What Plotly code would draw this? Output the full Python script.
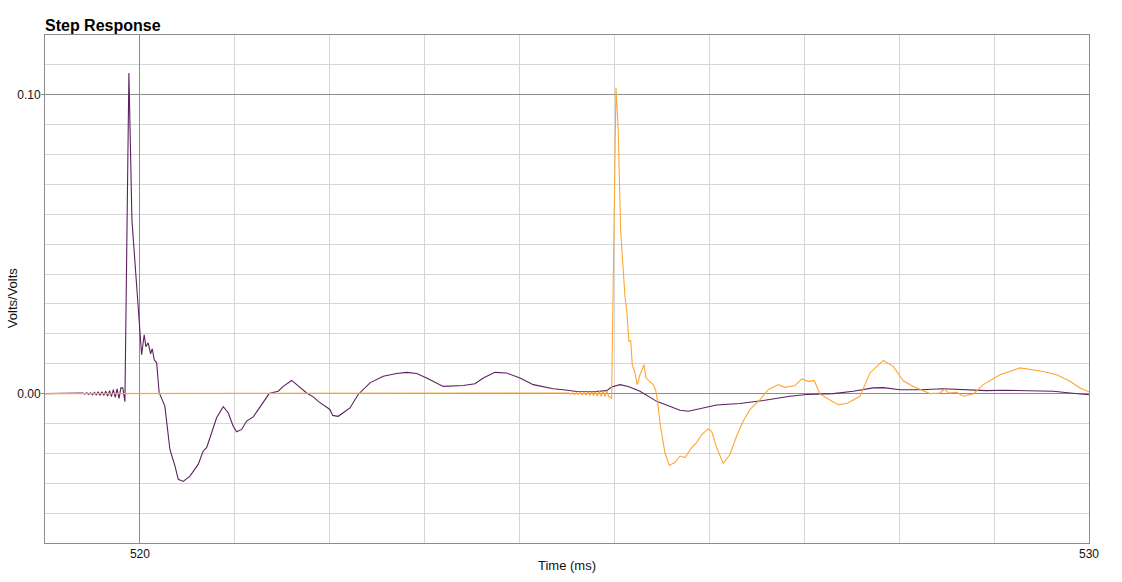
import plotly.graph_objects as go

# ---- data (time in ms, response in Volts/Volts) ----
purple_t = [519.00, 519.38,
            519.40, 519.42, 519.44, 519.46, 519.48, 519.50, 519.52, 519.54, 519.56, 519.58,
            519.60, 519.62, 519.64, 519.66, 519.68, 519.70, 519.72, 519.74, 519.76, 519.78,
            519.80, 519.82, 519.842, 519.884, 519.916, 520.018, 520.045, 520.063, 520.087,
            520.113, 520.130, 520.151, 520.176, 520.203, 520.263, 520.316, 520.369, 520.404,
            520.456, 520.527, 520.614, 520.667, 520.703, 520.756, 520.808, 520.878, 520.930,
            520.983, 521.019, 521.072, 521.124, 521.194, 521.264, 521.362, 521.457, 521.510,
            521.599, 521.668, 521.757, 521.826, 521.879, 522.002, 522.031, 522.090, 522.142,
            522.213, 522.300, 522.424, 522.564, 522.705, 522.810, 522.916, 523.021, 523.196,
            523.407, 523.530, 523.618, 523.741, 523.864, 524.004, 524.144, 524.355, 524.461,
            524.602, 524.777, 524.918, 524.970, 525.058, 525.146, 525.269, 525.445, 525.550,
            525.690, 525.778, 525.901, 526.077, 526.322, 526.568, 526.849, 527.025, 527.306,
            527.516, 527.727, 527.833, 528.008, 528.219, 528.465, 528.675, 528.922, 529.097,
            529.378, 529.624, 529.800, 529.982, 530.000]
purple_v = [0.0, 0.0,
            0.0002, -0.0002, 0.0003, -0.0003, 0.0003, -0.0004, 0.0004, -0.0004, 0.0005, -0.0005,
            0.0006, -0.0006, 0.0008, -0.0008, 0.0010, -0.0010, 0.0013, -0.0013, 0.0016, -0.0016,
            0.0020, 0.0019, -0.0027, 0.1073, 0.0580, 0.0130, 0.0197, 0.0157, 0.0170,
            0.0133, 0.0150, 0.0113, 0.0103, 0.0003, -0.0042, -0.0187, -0.0242, -0.0287,
            -0.0294, -0.0276, -0.0237, -0.0192, -0.0181, -0.0131, -0.0081, -0.0044, -0.0064,
            -0.0109, -0.0128, -0.0120, -0.0092, -0.0078, -0.0044, 0.0000, 0.0008, 0.0024,
            0.0044, 0.0027, 0.0002, -0.0011, -0.0026, -0.0053, -0.0073, -0.0076, -0.0064,
            -0.0048, -0.0003, 0.0036, 0.0058, 0.0067, 0.0071, 0.0067, 0.0052, 0.0024,
            0.0027, 0.0033, 0.0052, 0.0071, 0.0069, 0.0052, 0.0030, 0.0016, 0.0013,
            0.0007, 0.0006, 0.0010, 0.0022, 0.0030, 0.0024, 0.0008, -0.0026, -0.0039,
            -0.0056, -0.0059, -0.0051, -0.0038, -0.0033, -0.0023, -0.0009, -0.0003, 0.0000,
            0.0008, 0.0019, 0.0020, 0.0013, 0.0013, 0.0016, 0.0013, 0.0010, 0.0011,
            0.0010, 0.0008, 0.0002, -0.0003, -0.0004]

orange_t = [519.00, 524.50,
            524.52, 524.54, 524.56, 524.58, 524.60, 524.62, 524.64, 524.66, 524.68, 524.70,
            524.72, 524.74, 524.76, 524.78, 524.80, 524.82, 524.84, 524.86, 524.88, 524.90,
            524.92, 524.94, 524.970, 525.016, 525.040, 525.065, 525.111, 525.129, 525.153,
            525.171, 525.188, 525.216, 525.240, 525.269, 525.311, 525.332, 525.374, 525.409,
            525.437, 525.461, 525.479, 525.532, 525.577, 525.637, 525.690, 525.743, 525.813,
            525.866, 525.919, 525.988, 526.024, 526.077, 526.146, 526.217, 526.288, 526.357,
            526.428, 526.498, 526.533, 526.620, 526.726, 526.796, 526.902, 526.973, 527.042,
            527.105, 527.165, 527.253, 527.358, 527.447, 527.587, 527.692, 527.763, 527.832,
            527.938, 528.043, 528.149, 528.324, 528.430, 528.483, 528.517, 528.606, 528.675,
            528.781, 528.886, 529.062, 529.273, 529.518, 529.659, 529.800, 529.905, 529.982,
            530.000]
orange_v = [0.0, 0.0,
            0.0002, -0.0002, 0.0002, -0.0003, 0.0003, -0.0003, 0.0004, -0.0004, 0.0004, -0.0005,
            0.0005, -0.0006, 0.0006, -0.0007, 0.0007, -0.0008, 0.0008, -0.0009, 0.0009, -0.0010,
            0.0010, -0.0010, -0.0015, 0.1024, 0.0880, 0.0547, 0.0324, 0.0280, 0.0174,
            0.0178, 0.0097, 0.0069, 0.0030, 0.0063, 0.0097, 0.0052, 0.0041, 0.0030,
            0.0008, -0.0042, -0.0098, -0.0198, -0.0240, -0.0231, -0.0209, -0.0214, -0.0181,
            -0.0164, -0.0137, -0.0118, -0.0126, -0.0181, -0.0234, -0.0203, -0.0142, -0.0092,
            -0.0053, -0.0031, -0.0020, 0.0013, 0.0030, 0.0021, 0.0027, 0.0049, 0.0041,
            0.0044, -0.0001, -0.0018, -0.0037, -0.0033, -0.0009, 0.0069, 0.0091, 0.0111,
            0.0091, 0.0043, 0.0024, 0.0000, 0.0002, 0.0015, 0.0002, 0.0004, -0.0009,
            -0.0001, 0.0030, 0.0063, 0.0086, 0.0074, 0.0063, 0.0041, 0.0019, 0.0008,
            0.0006]

x_major = [520, 530]
x_minor = [519, 521, 522, 523, 524, 525, 526, 527, 528, 529]
y_major = [0.0, 0.1]
y_major_text = ["0.00", "0.10"]
y_minor = [-0.04, -0.03, -0.02, -0.01, 0.01, 0.02, 0.03, 0.04, 0.05, 0.06, 0.07, 0.08, 0.09, 0.11]

PURPLE = "#5c2160"
ORANGE = "#ffa534"
FONT = "Liberation Sans, Arial, Helvetica, sans-serif"

fig = go.Figure()
fig.add_trace(go.Scatter(x=purple_t, y=purple_v, mode="lines",
                         line=dict(color=PURPLE, width=1.1), showlegend=False))
fig.add_trace(go.Scatter(x=orange_t, y=orange_v, mode="lines",
                         line=dict(color=ORANGE, width=1.1), showlegend=False))

fig.update_layout(
    width=1122, height=582,
    margin=dict(l=45, r=33, t=35, b=39),
    paper_bgcolor="white", plot_bgcolor="white",
    font=dict(family=FONT, size=12, color="#111"),
    title=dict(text="<b>Step Response</b>", x=45 / 1122, xanchor="left", xref="container",
               y=1 - 25 / 582, yanchor="middle", yref="container",
               font=dict(family=FONT, size=16, color="#000")),
    annotations=[dict(text="Volts/Volts", xref="paper", yref="paper",
                      x=-33 / 1044, y=0.482, xanchor="center", yanchor="middle",
                      textangle=-90, showarrow=False,
                      font=dict(family=FONT, size=13, color="#111"))],
)
fig.update_xaxes(
    range=[519, 530], tickmode="array", tickvals=x_major, ticktext=["520", "530"],
    showgrid=True, gridcolor="#8c8c8c", gridwidth=1,
    minor=dict(tickmode="array", tickvals=x_minor, showgrid=True, gridcolor="#d6d6d6", gridwidth=1),
    zeroline=False, showline=True, linecolor="#8c8c8c", linewidth=1, mirror=True,
    ticks="", tickfont=dict(size=12, color="#111"), automargin=False,
    title=dict(text="Time (ms)", font=dict(size=13, color="#111"), standoff=0),
)
fig.update_yaxes(
    range=[-0.05, 0.12], tickmode="array", tickvals=y_major, ticktext=y_major_text,
    showgrid=True, gridcolor="#8c8c8c", gridwidth=1,
    minor=dict(tickmode="array", tickvals=y_minor, showgrid=True, gridcolor="#d6d6d6", gridwidth=1),
    zeroline=False, showline=True, linecolor="#8c8c8c", linewidth=1, mirror=True,
    ticks="outside", ticklen=3, tickcolor="#8c8c8c", tickfont=dict(size=12, color="#111"),
    ticklabelstandoff=-2, automargin=False,
)

fig.write_html("out.html", config={"displayModeBar": False},
               post_script="document.body.style.margin='0';")
